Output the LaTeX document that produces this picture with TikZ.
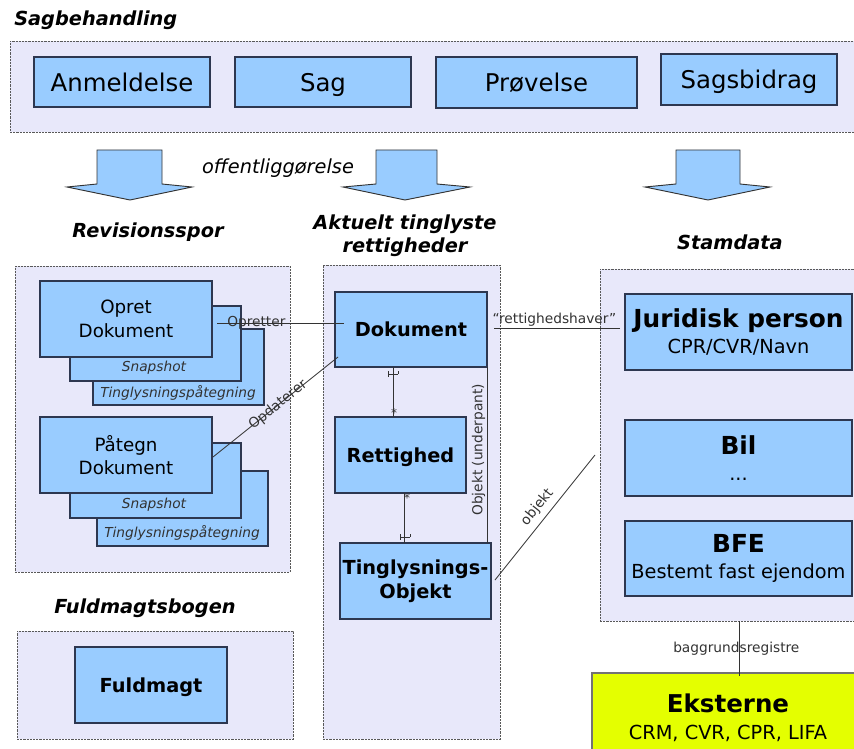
\documentclass[tikz,border=0pt]{standalone}
\usepackage{fontspec}
\setmainfont{DejaVu Sans}
\usetikzlibrary{calc}

\definecolor{boxblue}{RGB}{153,204,255}
\definecolor{lav}{RGB}{232,232,250}
\definecolor{edgecol}{RGB}{45,55,80}
\definecolor{ekstyellow}{RGB}{228,255,0}
\definecolor{lblcol}{RGB}{50,50,50}

\newcommand{\fsz}[1]{\fontsize{#1}{1.2\dimexpr #1pt\relax}\selectfont}

% \bx{style}{name}{x1}{y1}{x2}{y2}{text}: rectangle node spanning two corners
\newcommand{\bx}[7]{%
  \pgfmathsetmacro\bxcx{(#3+#5)/2}\pgfmathsetmacro\bxcy{(#4+#6)/2}%
  \pgfmathsetmacro\bxw{(#5-#3)*0.75}\pgfmathsetmacro\bxh{(#6-#4)*0.75}%
  \node[#1, minimum width=\bxw pt, minimum height=\bxh pt] (#2) at (\bxcx,\bxcy) {#7};}

\tikzset{
  container/.style={draw=black!65, fill=lav, dash pattern=on 1.6pt off 0.8pt,
    line width=0.5pt, inner sep=0pt, outer sep=0pt},
  box/.style={draw=edgecol, fill=boxblue, line width=0.9pt, inner sep=0pt,
    outer sep=0pt, align=center, text=black},
  bigtxt/.style={font=\fsz{18.3}, text height=13.7pt, text depth=0pt},
  boldtxt/.style={font=\fontsize{14.5}{18}\selectfont\bfseries},
  oneline/.style={text height=10.7pt, text depth=0pt},
  normtxt/.style={font=\fontsize{13.7}{17.5}\selectfont},
  twoline/.style={font=\fontsize{14.5}{#1}\selectfont},
  smallit/.style={font=\fsz{10.3}\itshape, text=lblcol, inner sep=0pt},
  heading/.style={font=\fsz{14.5}\bfseries\itshape, inner sep=0pt, align=center},
  conn/.style={draw=black!80, line width=0.6pt},
  lab/.style={font=\fsz{10.3}, text=lblcol, inner sep=1pt},
  mult/.style={font=\fsz{9}, text=black!80, inner sep=0pt},
  blockarrow/.style={draw=black!80, fill=boxblue, line width=0.7pt, line join=miter},
  onebar/.pic={\draw[conn] (-5,0) -- (5,0) (-5,-3) -- (-5,3) (5,-3) -- (5,0);}
}

\begin{document}
\begin{tikzpicture}[x=0.75pt,y=-0.75pt]
\useasboundingbox (0,0) rectangle (854,749);

% ---------- Sagbehandling ----------
\node[heading, anchor=base west] (hsag) at (14,26) {Sagbehandling};
\bx{container}{sagc}{10}{41}{858}{132}{}
\bx{box, bigtxt}{anm}{34}{57}{210}{107}{Anmeldelse}
\bx{box, bigtxt}{sag}{235}{57}{411}{107}{Sag}
\bx{box, bigtxt}{prov}{436}{57}{637}{108}{Prøvelse}
\bx{box, bigtxt}{sagsb}{661}{54}{837}{105}{Sagsbidrag}

% ---------- publishing arrows ----------
\draw[blockarrow] (97,150) -- (162,150) -- (162,184) -- (192,187) -- (130,200)
  -- (67,187) -- (97,184) -- cycle;
\draw[blockarrow] (376,150) -- (437,150) -- (437,184) -- (470,187) -- (405,200)
  -- (343,187) -- (376,184) -- cycle;
\draw[blockarrow] (676,150) -- (740,150) -- (740,184) -- (770,187) -- (708,200)
  -- (645,187) -- (676,184) -- cycle;
\node[font=\fsz{14.5}\itshape, anchor=base, inner sep=0pt] (offl) at (278,173) {offentliggørelse};

% ---------- headings ----------
\node[heading, anchor=base] (hrev) at (148,237) {Revisionsspor};
\node[heading, font=\fontsize{14.5}{17}\selectfont\bfseries\itshape] (hakt) at (405,236)
  {Aktuelt tinglyste\\rettigheder};
\node[heading, anchor=base] (hstam) at (730,249) {Stamdata};
\node[heading, anchor=base] (hfuld) at (145,613) {Fuldmagtsbogen};

% ---------- Revisionsspor ----------
\bx{container}{revc}{15}{266}{290}{572}{}
\bx{box}{tp1}{93}{329}{264}{405}{}
\bx{box}{sn1}{70}{306}{241}{381}{}
\bx{box, normtxt}{op1}{40}{281}{212}{357}{Opret\\Dokument}
\node[smallit] (tp1t) at (178,393) {Tinglysningspåtegning};
\node[smallit] (sn1t) at (154,368) {Snapshot};

\bx{box}{tp2}{97}{471}{268}{546}{}
\bx{box}{sn2}{70}{443}{241}{518}{}
\bx{box, normtxt}{pa2}{40}{417}{212}{493}{Påtegn\\Dokument}
\node[smallit] (tp2t) at (182,533) {Tinglysningspåtegning};
\node[smallit] (sn2t) at (154,505) {Snapshot};

% ---------- Aktuelt tinglyste rettigheder ----------
\bx{container}{aktc}{323}{265}{500}{739}{}
\bx{box, boldtxt, oneline}{dok}{335}{292}{487}{367}{Dokument}
\bx{box, boldtxt, oneline}{ret}{335}{417}{466}{493}{Rettighed}
\bx{box, boldtxt}{ting}{340}{543}{491}{619}{Tinglysnings-\\Objekt}

% ---------- Stamdata ----------
\bx{container}{stamc}{600}{269}{858}{621}{}
\bx{box, twoline=19.5}{jur}{625}{294}{852}{370}
  {{\fsz{18.6}\bfseries Juridisk person}\\CPR/CVR/Navn}
\bx{box, twoline=20}{bil}{625}{420}{852}{496}
  {{\fsz{18.6}\bfseries Bil}\\...}
\bx{box, twoline=19}{bfe}{625}{521}{852}{596}
  {{\fsz{18.6}\bfseries BFE}\\Bestemt fast ejendom}

% ---------- Eksterne ----------
\bx{draw=black!55, fill=ekstyellow, line width=0.9pt, inner sep=0pt, align=center,
  twoline=20}{eks}{592}{673}{864}{762}
  {{\fsz{18.4}\bfseries Eksterne}\\CRM, CVR, CPR, LIFA}

% ---------- Fuldmagtsbogen ----------
\bx{container}{fuldc}{17}{631}{293}{739}{}
\bx{box, boldtxt, oneline}{fm}{75}{647}{227}{723}{Fuldmagt}

% ---------- connectors ----------
\draw[conn] ($(op1.east)+(5,4)$) -- node[lab, pos=0.31] {Opretter} ($(dok.west)+(9,-6.5)$);
\draw[conn] ($(pa2.east)+(1,2)$) -- node[lab, sloped, pos=0.52] {Opdaterer}
  ($(dok.south west)+(3,-10)$);
\draw[conn] ($(dok.east)+(7,-1.5)$) -- node[lab, above, pos=0.48] {“rettighedshaver”}
  ($(jur.west)+(-5,-4)$);
\draw[conn] ($(ting.east)+(4,-1)$) -- node[lab, sloped, above, pos=0.52, yshift=3pt] {objekt}
  ($(stamc.west)+(-5,10)$);
\draw[conn] (dok.south east) -- node[lab, rotate=90, anchor=south, pos=0.47] {Objekt (underpant)}
  (dok.south east |- ting.north);
\coordinate (bg) at ($(stamc.south)+(10,0)$);
\draw[conn] (bg) -- node[lab, pos=0.5, xshift=-2pt] {baggrundsregistre}
  ($(bg |- eks.north)+(0,4)$);

% Dokument -- Rettighed (1 to many)
\coordinate (d1) at ($(dok.south)+(-18,0)$);
\coordinate (r1) at ($(ret.north)+(-7.5,0)$);
\draw[conn] (d1) -- (r1);
\pic at ($(d1)+(0,7)$) {onebar};
\node[mult] (m1) at ($(r1)+(1,-4)$) {*};

% Rettighed -- Tinglysnings-Objekt
\coordinate (r2) at ($(ret.south)+(3.5,0)$);
\coordinate (t2) at ($(ting.north)+(-11.5,0)$);
\draw[conn] (r2) -- (t2);
\node[mult] (m2) at ($(r2)+(3,5)$) {*};
\pic at ($(t2)+(1,-6)$) {onebar};

\end{tikzpicture}
\end{document}
